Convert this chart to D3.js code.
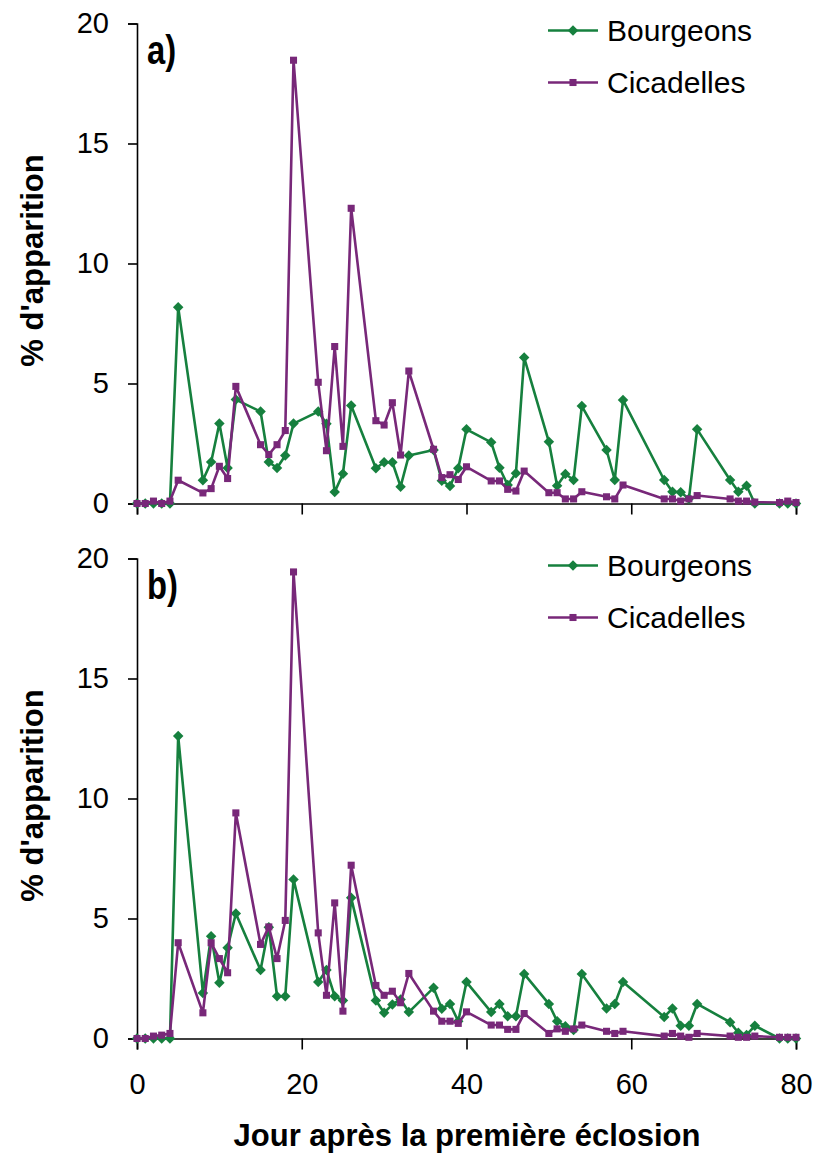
<!DOCTYPE html>
<html>
<head>
<meta charset="utf-8">
<script src="https://cdn.jsdelivr.net/npm/d3@7"></script>
<style>
  body { margin: 0; background: #fff; }
  text { font-family: "Liberation Sans", Arial, sans-serif; }
</style>
</head>
<body>
<div id="chart-area"></div>
<script>
// Jours observés
const days = [0,1,2,3,4,5,8,9,10,11,12,15,16,17,18,19,22,23,24,25,26,29,30,31,32,33,
  36,37,38,39,40,43,44,45,46,47,50,51,52,53,54,57,58,59,64,65,66,67,68,72,73,74,75,78,79,80];

// Panneau a)
const bourgeonsA = [0,0,0,0,0,8.18, 0.97,1.73,3.33,1.48,4.33, 3.83,1.73,1.48,2.0,3.33,
  3.83,3.32,0.48,1.24,4.08, 1.47,1.72,1.72,0.7,2.0, 2.23,0.95,0.73,1.47,3.09,
  2.55,1.49,0.77,1.26,6.08, 2.57,0.74,1.23,0.98,4.06, 2.23,0.98,4.31,
  0.98,0.49,0.47,0.2,3.09, 0.98,0.49,0.74,0, 0,0,0];
const cicadellesA = [0,0,0.1,0,0.1,0.97, 0.44,0.62,1.55,1.04,4.88, 2.45,2.04,2.45,3.04,18.47,
  5.05,2.2,6.54,2.38,12.3, 3.45,3.27,4.2,2.02,5.52, 2.26,1.08,1.2,1.0,1.53,
  0.94,0.94,0.59,0.52,1.35, 0.45,0.45,0.19,0.19,0.49, 0.28,0.19,0.77,
  0.19,0.19,0.1,0.19,0.33, 0.19,0.1,0.1,0.06, 0.04,0.1,0.04];

// Panneau b)
const bourgeonsB = [0,0,0,0,0,12.6, 1.9,4.26,2.32,3.78,5.21, 2.85,4.64,1.76,1.76,6.63,
  2.35,2.85,1.76,1.58,5.86, 1.58,1.07,1.42,1.63,1.1, 2.11,1.24,1.44,0.72,2.35,
  1.1,1.44,0.93,0.93,2.69, 1.44,0.72,0.51,0.35,2.69, 1.25,1.44,2.35,
  0.9,1.25,0.53,0.53,1.44, 0.68,0.24,0.15,0.53, 0,0,0];
const cicadellesB = [0,0,0.1,0.14,0.21,3.99, 1.07,3.99,3.33,2.74,9.4, 3.92,4.65,3.33,4.92,19.44,
  4.4,1.8,5.65,1.14,7.22, 2.21,1.8,1.97,1.49,2.71, 1.14,0.72,0.72,0.63,1.11,
  0.56,0.56,0.38,0.38,1.04, 0.21,0.4,0.3,0.4,0.56, 0.3,0.21,0.3,
  0.1,0.21,0.1,0.05,0.21, 0.1,0.05,0.05,0.1, 0.05,0.05,0.05];

const xTicks = [0, 20, 40, 60, 80];
const yTicks = [0, 5, 10, 15, 20];
const seriesNames = ["Bourgeons", "Cicadelles"];
const colors = ["#16803e", "#782879"];

const width = 817, height = 1154;
const svg = d3.select("#chart-area").append("svg")
  .attr("width", width).attr("height", height);

const x = d3.scaleLinear().domain([0, 80]).range([137, 796]);

const diamond = d3.symbol().type(d3.symbolDiamond2).size(70);
const square = d3.symbol().type(d3.symbolSquare).size(50);

function panel(top, label, bourgeons, cicadelles, showXLabels) {
  const y = d3.scaleLinear().domain([0, 20]).range([top + 480, top]);

  // Axes
  const leftAxis = d3.axisLeft(y).tickValues(yTicks).tickSize(9).tickPadding(19);
  const gy = svg.append("g").attr("transform", `translate(${x(0)},0)`).call(leftAxis);
  const bottomAxis = d3.axisBottom(x).tickValues(xTicks).tickSize(11).tickPadding(24);
  const gx = svg.append("g").attr("transform", `translate(0,${y(0)})`).call(bottomAxis);
  [gx, gy].forEach(g => {
    g.select(".domain").attr("stroke", "#000").attr("stroke-width", 1.6);
    g.selectAll(".tick line").attr("stroke", "#000").attr("stroke-width", 1.6);
    g.selectAll(".tick text").attr("font-size", "29px").attr("fill", "#000")
      .style("font-family", "'Liberation Sans', Arial, sans-serif");
  });
  if (!showXLabels) gx.selectAll(".tick text").remove();

  // Séries
  const series = [bourgeons, cicadelles];
  series.forEach((vals, i) => {
    const pts = days.map((d, j) => [d, vals[j]]);
    svg.append("path")
      .datum(pts)
      .attr("fill", "none")
      .attr("stroke", colors[i])
      .attr("stroke-width", 2.6)
      .attr("stroke-linejoin", "round")
      .attr("d", d3.line().x(p => x(p[0])).y(p => y(p[1])));
    svg.append("g").selectAll("path")
      .data(pts)
      .join("path")
      .attr("transform", p => `translate(${x(p[0])},${y(p[1])})`)
      .attr("d", i === 0 ? diamond : square)
      .attr("fill", colors[i]);
  });

  // Étiquette du panneau
  svg.append("text")
    .attr("transform", `translate(147,${top + 40}) scale(0.82,1)`)
    .attr("font-size", "40px")
    .attr("font-weight", "bold")
    .text(label);

  // Légende
  seriesNames.forEach((name, i) => {
    const ly = top + 7 + i * 52;
    svg.append("line")
      .attr("x1", 548).attr("x2", 598).attr("y1", ly).attr("y2", ly)
      .attr("stroke", colors[i]).attr("stroke-width", 2.6);
    svg.append("path")
      .attr("transform", `translate(573,${ly})`)
      .attr("d", i === 0 ? diamond : square)
      .attr("fill", colors[i]);
    svg.append("text")
      .attr("x", 607).attr("y", ly)
      .attr("dy", "0.36em")
      .attr("font-size", "30px")
      .text(name);
  });

  // Titre de l'axe Y
  svg.append("text")
    .attr("transform", `translate(43,${top + 237}) rotate(-90)`)
    .attr("text-anchor", "middle")
    .attr("font-size", "31px")
    .attr("font-weight", "bold")
    .text("% d'apparition");
}

panel(23.5, "a)", bourgeonsA, cicadellesA, false);
panel(558.5, "b)", bourgeonsB, cicadellesB, true);

// Titre de l'axe X
svg.append("text")
  .attr("x", 467).attr("y", 1146)
  .attr("text-anchor", "middle")
  .attr("font-size", "31px")
  .attr("font-weight", "bold")
  .text("Jour après la première éclosion");
</script>
</body>
</html>
